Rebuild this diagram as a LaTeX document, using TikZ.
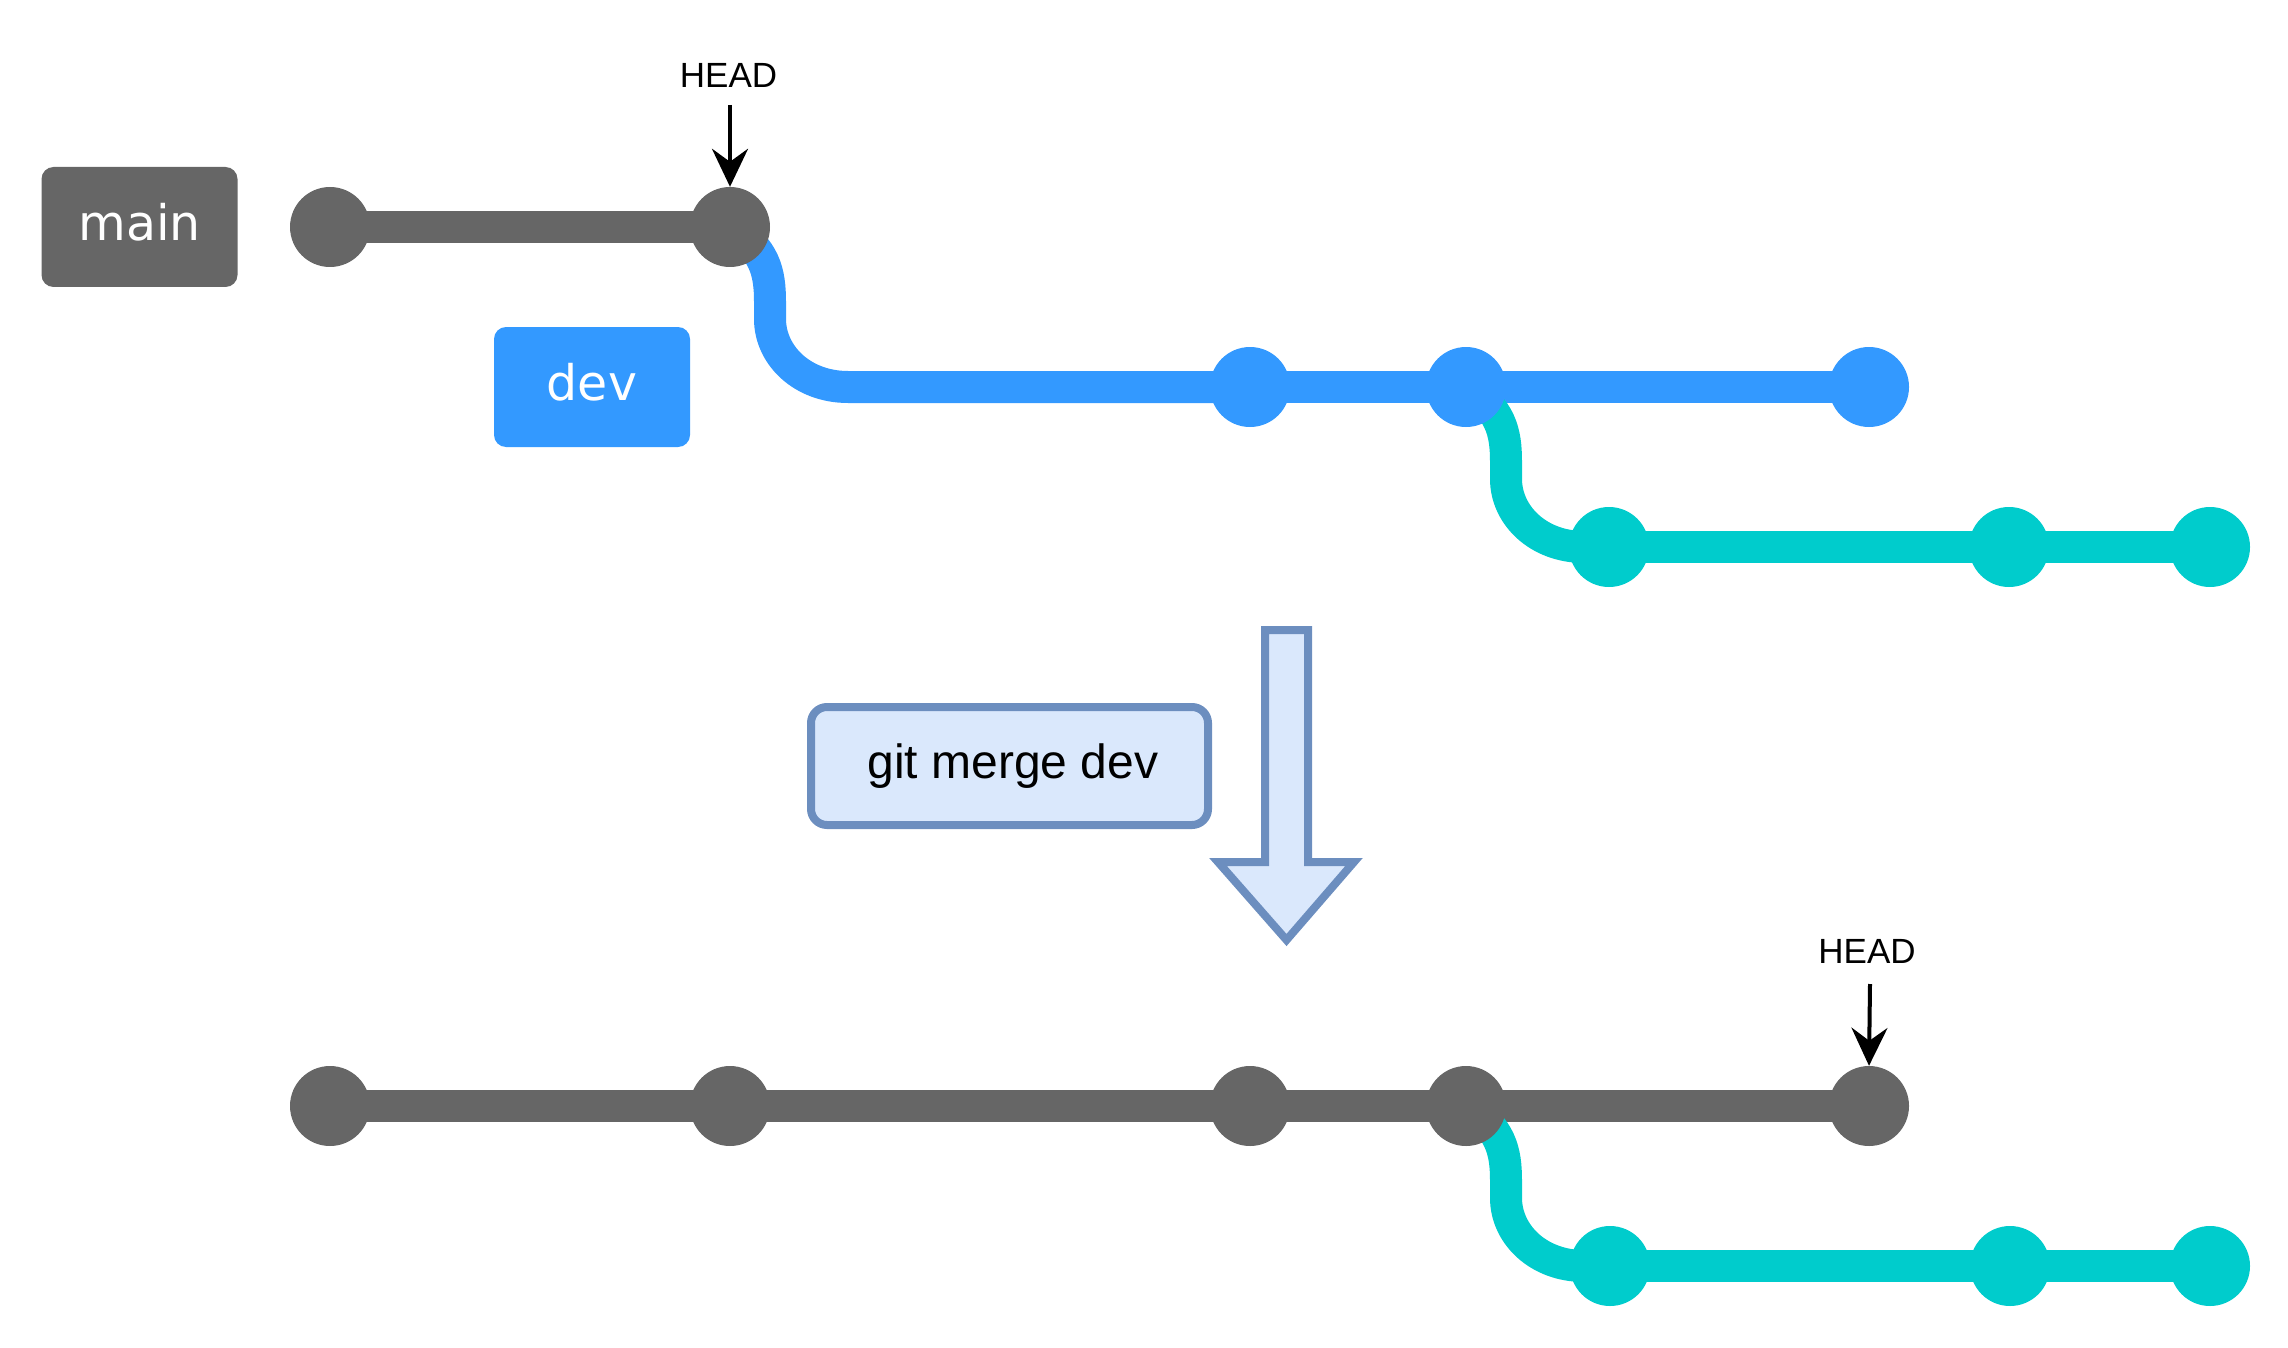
\documentclass[tikz,border=0pt]{standalone}
\usepackage{fontspec}
\newfontfamily\dejavu{DejaVu Sans}
\newfontfamily\libsans{Liberation Sans}
\usetikzlibrary{calc,arrows.meta}
\definecolor{cgray}{HTML}{666666}
\definecolor{cblue}{HTML}{3399FF}
\definecolor{cteal}{HTML}{00CCCC}
\definecolor{cbfill}{HTML}{DAE8FC}
\definecolor{cbdraw}{HTML}{6C8EBF}
\newcommand\branchcurve[3]{%
  \draw[branchline=#1] (#2.center)
    .. controls ($(#2)+(35,22)$) and ($(#2)+(40,45)$) .. ($(#2)+(40,75)$)
    -- ($(#2)+(40,92)$)
    .. controls ($(#2)+(40,128)$) and ($(#2)+(72,160)$) .. ($(#2)+(118,160)$)
    -- (#3.center);}
\begin{document}
\begin{tikzpicture}[x=1pt,y=-1pt,
  commit/.style={circle,inner sep=0pt,minimum size=80pt,fill=#1},
  branchline/.style={line width=32pt,draw=#1},
  branchbox/.style={rounded corners=12pt,inner sep=0pt,minimum width=196pt,minimum height=120pt,fill=#1,text=white,text height=27pt,text depth=0pt,font=\dejavu\fontsize{49}{59}\selectfont},
  headtext/.style={font=\libsans\fontsize{35}{42}\selectfont,inner sep=0pt,anchor=base},
  headarrow/.style={line width=4pt,-{Stealth[length=38pt,width=36pt,inset=13pt]}},
  cmdbox/.style={draw=cbdraw,fill=cbfill,line width=8pt,rounded corners=16pt,minimum width=397pt,minimum height=118pt,inner sep=0pt,text height=25pt,text depth=0pt,font=\libsans\fontsize{48}{58}\selectfont},
  bigarrow/.style={draw=cbdraw,fill=cbfill,line width=8pt,miter limit=10}
]
\useasboundingbox (0,0) rectangle (2288,1348);

% ---------- top: before merge ----------
\node[branchbox=cgray] (mainbox) at (139.5,227) {main};
\node[branchbox=cblue] (devbox) at (592,387) {dev};

\path (330,227) coordinate (p1) (730,227) coordinate (p2)
      (1250,387) coordinate (p3) (1466,387) coordinate (p4) (1869,387) coordinate (p5)
      (1609,547) coordinate (p6) (2009,547) coordinate (p7) (2210,547) coordinate (p8);

\draw[branchline=cgray] (p1) -- (p2);
\branchcurve{cblue}{p2}{p3}
\draw[branchline=cblue] (p3) -- (p4) -- (p5);
\branchcurve{cteal}{p4}{p6}
\draw[branchline=cteal] (p6) -- (p7) -- (p8);

\node[commit=cgray] (c1) at (p1) {};
\node[commit=cgray] (c2) at (p2) {};
\node[commit=cblue] (c3) at (p3) {};
\node[commit=cblue] (c4) at (p4) {};
\node[commit=cblue] (c5) at (p5) {};
\node[commit=cteal] (c6) at (p6) {};
\node[commit=cteal] (c7) at (p7) {};
\node[commit=cteal] (c8) at (p8) {};

\node[headtext] (head1) at (728.5,88) {HEAD};
\coordinate (h1s) at (730,105);
\draw[headarrow] (h1s) -- (c2.north);

% ---------- middle: command ----------
\node[cmdbox] (cmd) at (1009.5,766) {\hspace*{7pt}git merge dev};
\draw[bigarrow] (1265,630) -- (1308,630) -- (1308,862) -- (1354,862)
  -- (1286.5,940) -- (1218,862) -- (1265,862) -- cycle;

% ---------- bottom: after merge ----------
\path (330,1106) coordinate (q1) (730,1106) coordinate (q2) (1250,1106) coordinate (q3)
      (1466,1106) coordinate (q4) (1869,1106) coordinate (q5)
      (1610,1266) coordinate (q6) (2010,1266) coordinate (q7) (2210,1266) coordinate (q8);

\draw[branchline=cgray] (q1) -- (q2) -- (q3) -- (q4) -- (q5);
\branchcurve{cteal}{q4}{q6}
\draw[branchline=cteal] (q6) -- (q7) -- (q8);

\node[commit=cgray] (e1) at (q1) {};
\node[commit=cgray] (e2) at (q2) {};
\node[commit=cgray] (e3) at (q3) {};
\node[commit=cgray] (e4) at (q4) {};
\node[commit=cgray] (e5) at (q5) {};
\node[commit=cteal] (e6) at (q6) {};
\node[commit=cteal] (e7) at (q7) {};
\node[commit=cteal] (e8) at (q8) {};

\node[headtext] (head2) at (1867,963) {HEAD};
\coordinate (h2s) at (1870,984);
\draw[headarrow] (h2s) -- (e5.north);
\end{tikzpicture}
\end{document}
